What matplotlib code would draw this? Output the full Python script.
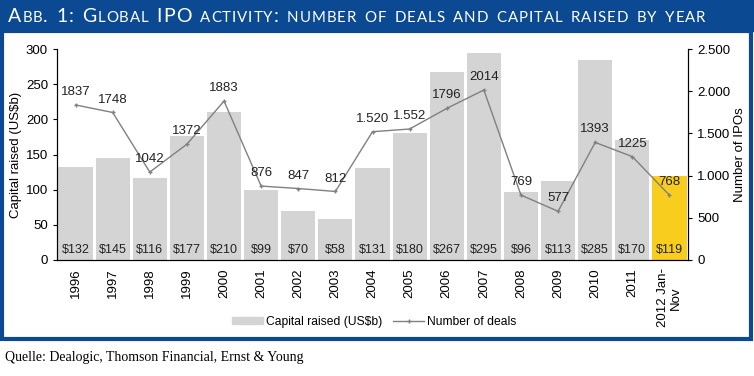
import numpy as np
import matplotlib.pyplot as plt
from matplotlib.patches import Rectangle
from matplotlib.lines import Line2D
from matplotlib.ticker import FuncFormatter

# data
years = ['1996', '1997', '1998', '1999', '2000', '2001', '2002', '2003', '2004',
         '2005', '2006', '2007', '2008', '2009', '2010', '2011', '2012 Jan-\nNov']
capital = [132, 145, 116, 177, 210, 99, 70, 58, 131, 180, 267, 295, 96, 113, 285, 170, 119]
deals = [1837, 1748, 1042, 1372, 1883, 876, 847, 812, 1520, 1552, 1796, 2014, 769, 577, 1393, 1225, 768]
deal_labels = ['1837', '1748', '1042', '1372', '1883', '876', '847', '812', '1.520',
               '1.552', '1796', '2014', '769', '577', '1393', '1225', '768']

blue = '#0b4a93'
gray_bar = '#d4d4d4'
yellow = '#f9cd1e'
plt.rcParams['font.family'] = ['Liberation Sans', 'DejaVu Sans']

fig = plt.figure(figsize=(7.54, 3.76), dpi=100)
W, H = 754, 376

# blue frame + title band
fig.patches.append(Rectangle((0, 1 - 31 / H), 1, 31 / H, transform=fig.transFigure,
                             color=blue, zorder=0))
fig.patches.append(Rectangle((1.5 / W, 1 - 339 / H), 749 / W, 308.5 / H, transform=fig.transFigure,
                             fill=False, edgecolor=blue, linewidth=3, zorder=0))

# small-caps title drawn piece by piece
title = 'Abb. 1: Global IPO activity: number of deals and capital raised by year'
fig.canvas.draw()
renderer = fig.canvas.get_renderer()
x = 8 / W
y = 1 - 22 / H
for ch in title:
    big = ch.isupper() or ch.isdigit() or ch in ':.'
    t = fig.text(x, y, ch.upper(), color='white', fontsize=14 if big else 10.8,
                 family='Lato', transform=fig.transFigure, va='baseline')
    bb = t.get_window_extent(renderer)
    x += (bb.width + (3.7 if ch == ' ' else 0.95)) / W

ax = fig.add_axes([57 / W, 1 - 260 / H, 631 / W, 211 / H])
ax2 = ax.twinx()

pos = np.arange(len(years))
colors = [gray_bar] * (len(years) - 1) + [yellow]
ax.bar(pos, capital, width=0.92, color=colors, zorder=2)
for p, v in zip(pos, capital):
    ax.text(p, 6, f'${v}', ha='center', va='bottom', fontsize=9, color='#222222', zorder=3)

ax.set_xlim(-0.5, len(years) - 0.5)
ax.set_ylim(0, 300)
ax.set_yticks(range(0, 301, 50))
ax.set_xticks(pos)
ax.set_xticklabels(years, rotation=90, fontsize=9.5, linespacing=1.0)
ax.tick_params(axis='x', length=0, pad=6)
ax.tick_params(axis='y', labelsize=9.5, direction='out', length=3)
ax.set_ylabel('Capital raised (US$b)', fontsize=9.5, labelpad=3)
ax.spines['top'].set_visible(False)

ax2.plot(pos, deals, color='#808080', linewidth=1, marker='+', markersize=3)
for p, v, lab in zip(pos, deals, deal_labels):
    ax2.annotate(lab, (p, v), xytext=(0, 5), textcoords='offset points',
                 ha='center', va='bottom', fontsize=9.5, color='#222222')
ax2.set_ylim(0, 2500)
ax2.set_yticks(range(0, 2501, 500))
ax2.yaxis.set_major_formatter(FuncFormatter(lambda v, _: f'{int(v):,}'.replace(',', '.')))
ax2.tick_params(axis='y', labelsize=9.5, direction='out', length=3)
ax2.set_ylabel('Number of IPOs', fontsize=9.5, labelpad=3)
ax2.spines['top'].set_visible(False)

handles = [Rectangle((0, 0), 1, 1, color=gray_bar),
           Line2D([0], [0], color='#808080', linewidth=1, marker='+', markersize=3)]
fig.legend(handles, ['Capital raised (US$b)', 'Number of deals'], loc='center',
           bbox_to_anchor=(374 / W, 1 - 322 / H), ncol=2, frameon=False, fontsize=8.7,
           handlelength=2.6, handleheight=0.5, columnspacing=0.9, handletextpad=0.2)

fig.text(5 / W, 1 - 357 / H, 'Quelle: Dealogic, Thomson Financial, Ernst & Young',
         family='Liberation Serif', fontsize=10, va='center')

fig.savefig('out.png', dpi=100)
